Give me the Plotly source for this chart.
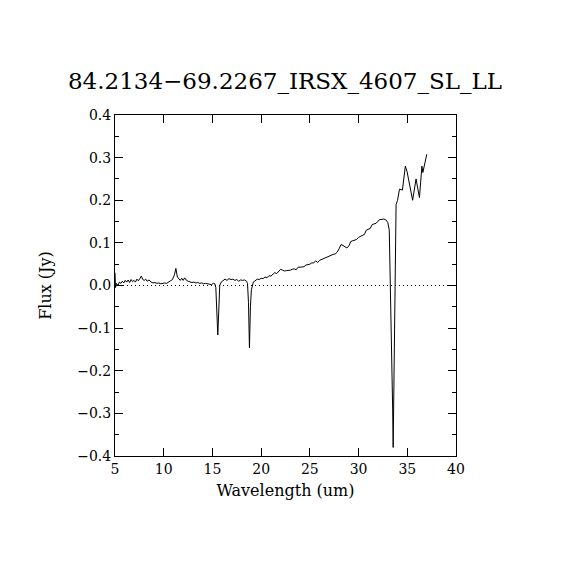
import plotly.graph_objects as go

title_text = "84.2134\u221269.2267_IRSX_4607_SL_LL"
x_label = "Wavelength (um)"
y_label = "Flux (Jy)"

wavelength = [
    5.0, 5.05, 5.15, 5.3, 5.45, 5.6, 5.75, 5.9, 6.05, 6.2, 6.35, 6.5, 6.65, 6.8, 6.95,
    7.1, 7.25, 7.4, 7.55, 7.7, 7.85, 8.0, 8.15, 8.3, 8.5, 8.7, 8.9, 9.1, 9.3, 9.5,
    9.7, 9.9, 10.1, 10.3, 10.5, 10.7, 10.9, 11.1, 11.25, 11.4, 11.55, 11.7, 11.85, 12.0,
    12.15, 12.3, 12.5, 12.7, 12.9, 13.1, 13.3, 13.5, 13.7, 13.9, 14.1, 14.3, 14.5, 14.7,
    14.9, 15.1, 15.25, 15.35, 15.45, 15.55, 15.65, 15.75, 15.9, 16.1, 16.3, 16.5, 16.7,
    16.9, 17.1, 17.3, 17.5, 17.7, 17.9, 18.1, 18.3, 18.5, 18.6, 18.7, 18.8, 18.9, 19.0,
    19.2, 19.4, 19.6, 19.8, 20.0, 20.2, 20.4, 20.6, 20.8, 21.0, 21.2, 21.4, 21.6, 21.8,
    22.0, 22.2, 22.4, 22.6, 22.8, 23.0, 23.2, 23.4, 23.6, 23.8, 24.0, 24.2, 24.4, 24.6,
    24.8, 25.0, 25.2, 25.4, 25.6, 25.8, 26.0, 26.2, 26.4, 26.6, 26.8, 27.0, 27.2, 27.4,
    27.6, 27.8, 28.0, 28.2, 28.4, 28.6, 28.8, 29.0, 29.2, 29.4, 29.6, 29.8, 30.0, 30.2,
    30.4, 30.6, 30.8, 31.0, 31.2, 31.4, 31.6, 31.8, 32.0, 32.2, 32.4, 32.6, 32.8, 33.0,
    33.15, 33.3, 33.4, 33.5, 33.55, 33.65, 33.75, 33.85, 34.0, 34.2, 34.5, 34.8, 34.97,
    35.25, 35.55, 35.9, 36.05, 36.25, 36.5, 36.6, 37.0,
]
flux = [
    0.03, -0.005, 0.005, 0.0, 0.008, 0.005, 0.01, 0.006, 0.012, 0.008, 0.013, 0.007, 0.014, 0.009, 0.012,
    0.008, 0.015, 0.011, 0.016, 0.022, 0.014, 0.012, 0.015, 0.01, 0.013, 0.008, 0.006, 0.007, 0.005, 0.006,
    0.004, 0.005, 0.006, 0.005, 0.008, 0.009, 0.014, 0.025, 0.04, 0.02, 0.015, 0.012, 0.017, 0.012,
    0.018, 0.013, 0.01, 0.008, 0.007, 0.008, 0.006, 0.007, 0.005, 0.006, 0.004, 0.005, 0.004, 0.003,
    0.002, 0.005, 0.004, -0.005, -0.05, -0.116, -0.06, 0.0, 0.008, 0.012, 0.015, 0.012, 0.016,
    0.014, 0.015, 0.012, 0.014, 0.01, 0.013, 0.012, 0.013, 0.01, 0.005, -0.04, -0.146, -0.05, -0.01,
    0.008, 0.012, 0.015, 0.014, 0.017, 0.016, 0.02, 0.018, 0.023, 0.022, 0.026, 0.03, 0.028, 0.033,
    0.038, 0.036, 0.034, 0.035, 0.035, 0.036, 0.038, 0.039, 0.037, 0.043, 0.043, 0.044, 0.044, 0.048,
    0.049, 0.05, 0.053, 0.053, 0.058, 0.054, 0.059, 0.061, 0.063, 0.066, 0.068, 0.069, 0.071, 0.073,
    0.074, 0.078, 0.086, 0.096, 0.094, 0.09, 0.088, 0.093, 0.103, 0.105, 0.106, 0.108, 0.113, 0.116,
    0.118, 0.12, 0.13, 0.133, 0.134, 0.143, 0.145, 0.146, 0.151, 0.155, 0.155, 0.156, 0.154, 0.148,
    0.13, -0.02, -0.115, -0.29, -0.38, -0.225, 0.0, 0.19, 0.2, 0.226, 0.224, 0.28, 0.268,
    0.235, 0.2, 0.25, 0.23, 0.206, 0.28, 0.265, 0.308,
]

x_range = [5, 40]
y_range = [-0.4, 0.4]

FONT = "DejaVu Serif"

fig = go.Figure()
fig.add_trace(go.Scatter(
    x=wavelength, y=flux, mode="lines",
    line=dict(color="black", width=1),
    showlegend=False, hoverinfo="skip",
))

fig.add_shape(type="line", xref="paper", yref="y", x0=0, x1=1, y0=0, y1=0,
              line=dict(color="black", width=1, dash="1px,3px"))

axis_common = dict(
    showgrid=False, zeroline=False, showline=True, linecolor="black", linewidth=1,
    mirror="allticks", ticks="inside", ticklen=8, tickcolor="black", tickwidth=1,
    tickfont=dict(family=FONT, size=14, color="black"),
)

fig.update_xaxes(
    range=x_range, tick0=5, dtick=5, **axis_common,
    title=dict(text=x_label, font=dict(family=FONT, size=16, color="black"), standoff=9),
)
fig.update_yaxes(
    range=y_range, tick0=-0.4, dtick=0.1, tickformat=".1f", **axis_common,
    minor=dict(ticks="inside", ticklen=4, dtick=0.05, tickcolor="black", showgrid=False),
    title=dict(text=y_label, font=dict(family=FONT, size=16, color="black"), standoff=21),
)

fig.update_layout(
    width=570, height=570,
    margin=dict(l=107, r=122, t=107, b=122),
    paper_bgcolor="white", plot_bgcolor="white",
    title=dict(text=title_text, x=0.486, xanchor="center", y=0.872, yanchor="middle",
               font=dict(family=FONT, size=23, color="black")),
)

fig.write_html("out.html")
